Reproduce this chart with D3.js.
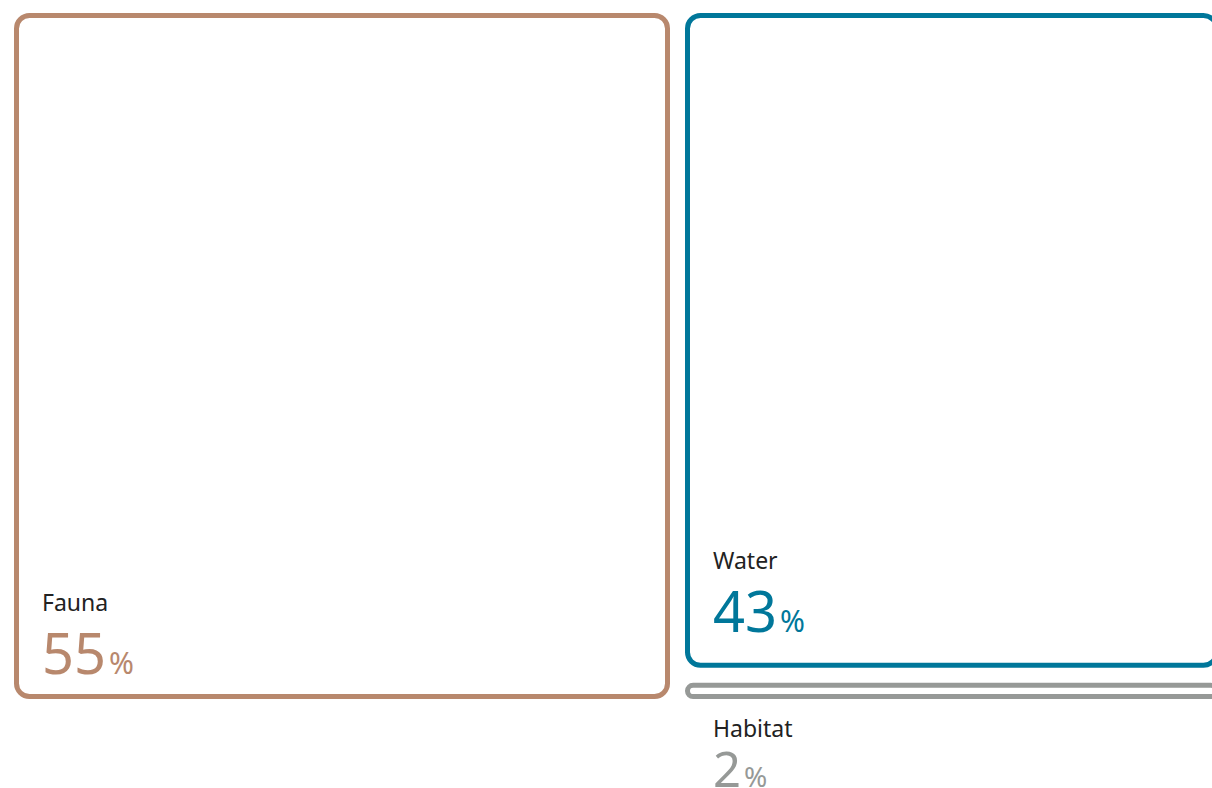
<!DOCTYPE html>
<html>
<head>
<meta charset="utf-8">
<script src="https://cdn.jsdelivr.net/npm/d3@7"></script>
<style>
  html, body { margin: 0; padding: 0; background: #fff; overflow: hidden; }
  svg { display: block; }
  .name { font-family: "Noto Sans", "Open Sans", sans-serif; font-size: 23px; fill: #222; }
  .value { font-family: "Noto Sans", "Open Sans", sans-serif; font-weight: 400; }
</style>
</head>
<body>
<svg id="chart" width="1212" height="788"></svg>
<script>
// Share of findings by category (percent)
const categories = ["Fauna", "Water", "Habitat"];
const shares = [55, 43, 2];
const colors = ["#b8886d", "#00779a", "#969997"];

const svg = d3.select("#chart");
const margin = { left: 14, top: 13 };
const width = 1205, height = 686;
const stroke = 5, radius = 13, pad = 15;

const root = d3.hierarchy({
  children: categories.map((c, i) => ({ name: c, value: shares[i], color: colors[i] }))
}).sum(d => d.value || 0);

d3.treemap()
  .size([width, height])
  .paddingInner(pad)
  .tile(d3.treemapSquarify)(root);

const g = svg.append("g").attr("transform", `translate(${margin.left},${margin.top})`);

const leaf = g.selectAll("g.tile")
  .data(root.leaves())
  .join("g")
  .attr("class", "tile");

leaf.append("rect")
  .attr("x", d => d.x0 + stroke / 2)
  .attr("y", d => d.y0 + stroke / 2)
  .attr("width", d => Math.max(0, d.x1 - d.x0 - stroke))
  .attr("height", d => Math.max(0, d.y1 - d.y0 - stroke))
  .attr("rx", d => Math.min(radius, (d.y1 - d.y0 - stroke) / 2))
  .attr("fill", "#fff")
  .attr("stroke", d => d.data.color)
  .attr("stroke-width", stroke);

// Labels sit in the lower-left corner of each tile; tiles too short for
// the label block get a smaller label underneath instead.
const isSmall = d => d.y1 - d.y0 < 120;
function nameBaseline(d) {
  if (isSmall(d)) return d.y1 + 38;
  return valueBaseline(d) - 63;
}
function valueBaseline(d) {
  if (isSmall(d)) return d.y1 + 88;
  return d.y1 >= height - 1 ? d.y1 - 25 : d.y1 - 36;
}

leaf.append("text")
  .attr("class", "name")
  .attr("x", d => d.x0 + 28)
  .attr("y", nameBaseline)
  .text(d => d.data.name);

const val = leaf.append("text")
  .attr("class", "value")
  .attr("x", d => d.x0 + 28)
  .attr("y", valueBaseline)
  .attr("font-size", d => isSmall(d) ? 49 : 56)
  .attr("fill", d => d.data.color)
  .text(d => d.data.value);
val.append("tspan")
  .attr("dx", 3)
  .attr("font-size", d => isSmall(d) ? 28 : 30)
  .text("%");
</script>
</body>
</html>
